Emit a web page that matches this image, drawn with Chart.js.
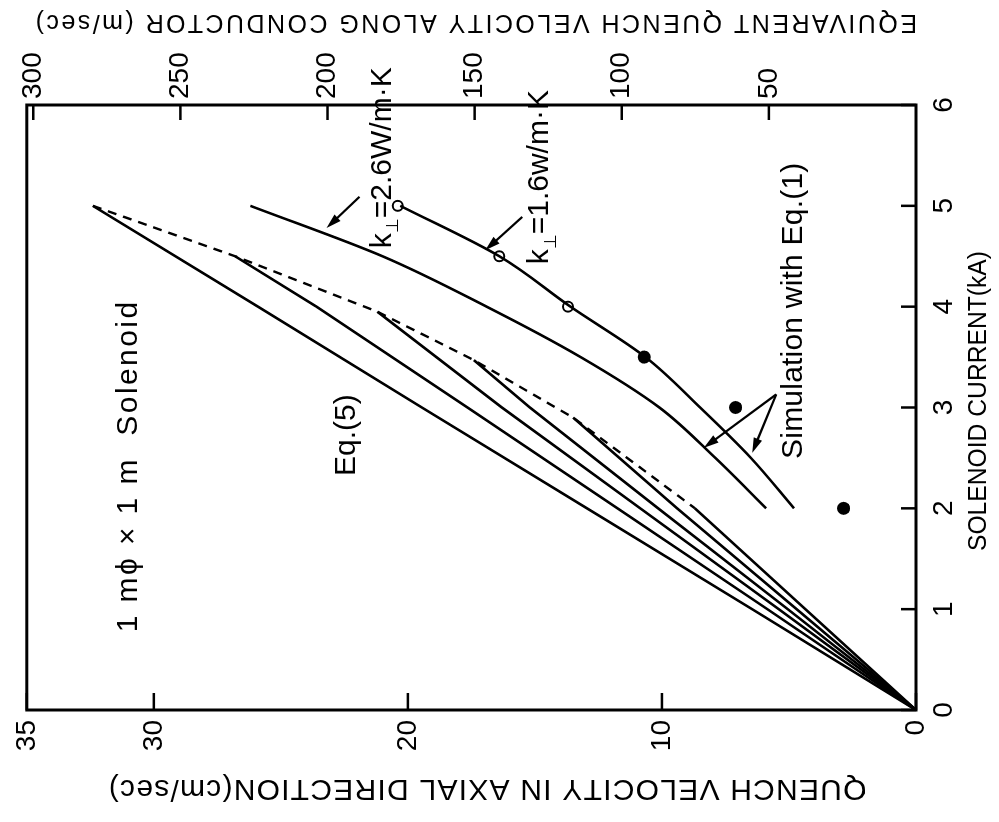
<!DOCTYPE html>
<html>
<head>
<meta charset="utf-8">
<title>Quench velocity</title>
<script src="https://cdn.jsdelivr.net/npm/chart.js@4.4.1/dist/chart.umd.min.js"></script>
<style>
    html, body { margin: 0; padding: 0; background: #fff; overflow: hidden; width: 999px; height: 822px; }
    /* la figura original esta girada 90 grados: se dibuja derecha y se gira el contenedor */
    #lienzo { position: absolute; left: 0; top: 0; width: 822px; height: 999px;
              transform-origin: 0 0; transform: translateY(822px) rotate(-90deg); }
</style>
</head>
<body>
<div id="lienzo"><canvas id="grafico" width="822" height="999" style="width:822px;height:999px"></canvas></div>
<script>
// ejes
const ticksCorriente = [0, 1, 2, 3, 4, 5, 6];          // kA
const ticksAxial = [0, 10, 20, 30, 35];                // cm/sec
const ticksConductor = [50, 100, 150, 200, 250, 300];  // m/sec
const maxAxial = 35;
const maxConductor = 302.2;

// Eq.(5): rectas desde el origen hasta la envolvente (corriente kA, velocidad cm/sec)
const eq5_50 = [[0, 0], [1, 6.45], [2, 12.95], [3, 19.45], [4, 25.9], [5, 32.4]];
const eq5_45 = [[0, 0], [1, 5.85], [2, 11.75], [3, 17.65], [4, 23.6], [4.5, 26.8]];
const eq5_40 = [[0, 0], [1, 5.4], [2, 10.85], [3, 16.3], [3.95, 21.2]];
const eq5_35 = [[0, 0], [1, 5.05], [2, 10.15], [3, 15.2], [3.47, 17.4]];
const eq5_30 = [[0, 0], [1, 4.7], [2, 9.4], [2.9, 13.5]];
const eq5_20 = [[0, 0], [1, 4.35], [2, 8.7]];
const eq5Envolvente = [[5, 32.4], [4.5, 26.8], [3.95, 21.2], [3.47, 17.4], [2.9, 13.5], [2, 8.7]];

// simulacion con Eq.(1)
const simK26 = [[2, 5.9], [2.5, 7.9], [3, 10.1], [3.5, 13.2], [4, 16.9], [4.5, 21.0], [5, 26.2]];
const simK16 = [[2, 4.8], [2.5, 6.5], [3, 8.5], [3.5, 10.65], [4, 13.6], [4.5, 16.4], [5, 20.3]];

// medidas
const puntosAbiertos = [[5, 20.4], [4.5, 16.4], [4, 13.7]];
const puntosLlenos = [[3.5, 10.7], [3, 7.1], [2, 2.85]];

// flechas [desde, hasta]
const flechas = [
    [[5.09, 21.9], [4.78, 23.2]],
    [[4.89, 15.5], [4.56, 16.95]],
    [[3.13, 5.5], [2.6, 8.35]],
    [[3.13, 5.5], [2.55, 6.45]]
];

const FUENTE = '"Liberation Sans", Arial, Helvetica, sans-serif';

function puntos(pares) {
    return pares.map(p => ({x: p[0], y: p[1]}));
}

function serieLinea(pares, extra) {
    return Object.assign({
        data: puntos(pares),
        showLine: true,
        borderColor: '#000',
        borderWidth: 2.6,
        pointRadius: 0,
        fill: false
    }, extra || {});
}

function textoAjustado(ctx, texto, x, y, ancho, tam, giro, alinear) {
    ctx.save();
    ctx.translate(x, y);
    if (giro) ctx.rotate(giro);
    ctx.font = tam + 'px ' + FUENTE;
    ctx.fillStyle = '#000';
    ctx.textAlign = alinear || 'center';
    ctx.textBaseline = 'middle';
    const w = ctx.measureText(texto).width;
    if (ancho && w > ancho) {
        ctx.fillText(texto, 0, 0, ancho);
    } else {
        if (ancho) ctx.letterSpacing = ((ancho - w) / texto.length).toFixed(2) + 'px';
        ctx.fillText(texto, 0, 0);
    }
    ctx.restore();
}

function etiquetaK(ctx, resto, x, y, ancho) {
    // "k" con subindice ⊥ y el resto del texto
    ctx.save();
    ctx.fillStyle = '#000';
    ctx.textBaseline = 'middle';
    ctx.textAlign = 'left';
    ctx.font = '30px ' + FUENTE;
    const wk = ctx.measureText('k').width;
    ctx.fillText('k', x, y);
    ctx.font = '17px ' + FUENTE;
    const ws = ctx.measureText('⊥').width;
    ctx.fillText('⊥', x + wk, y + 11);
    ctx.font = '30px ' + FUENTE;
    const wr = ctx.measureText(resto).width;
    const libre = ancho - wk - ws;
    if (libre > wr) ctx.letterSpacing = ((libre - wr) / resto.length).toFixed(2) + 'px';
    ctx.fillText(resto, x + wk + ws, y);
    ctx.restore();
}

function dibujarFlecha(ctx, x0, y0, x1, y1) {
    const ang = Math.atan2(y1 - y0, x1 - x0);
    const largo = 15, medio = 4.5;
    const c = Math.cos(ang), s = Math.sin(ang);
    ctx.beginPath();
    ctx.moveTo(x0, y0);
    ctx.lineTo(x1 - c * largo * 0.7, y1 - s * largo * 0.7);
    ctx.stroke();
    ctx.beginPath();
    ctx.moveTo(x1, y1);
    ctx.lineTo(x1 - c * largo - s * medio, y1 - s * largo + c * medio);
    ctx.lineTo(x1 - c * largo + s * medio, y1 - s * largo - c * medio);
    ctx.closePath();
    ctx.fill();
}

const marco = {
    id: 'marco',
    afterDatasetsDraw: function(chart) {
        const ctx = chart.ctx;
        const area = chart.chartArea;
        const ex = chart.scales.x, ey = chart.scales.y, ey2 = chart.scales.y2;
        ctx.save();
        ctx.strokeStyle = '#000';
        ctx.fillStyle = '#000';
        ctx.lineCap = 'butt';

        // marco
        ctx.lineWidth = 3;
        ctx.strokeRect(area.left, area.top, area.right - area.left, area.bottom - area.top);

        // marcas hacia dentro
        ctx.lineWidth = 2.5;
        ticksCorriente.forEach(t => {
            const p = ex.getPixelForValue(t);
            ctx.beginPath(); ctx.moveTo(p, area.bottom); ctx.lineTo(p, area.bottom - 15); ctx.stroke();
        });
        ticksAxial.forEach(t => {
            const p = ey.getPixelForValue(t);
            ctx.beginPath(); ctx.moveTo(area.left, p); ctx.lineTo(area.left + 17, p); ctx.stroke();
        });
        ticksConductor.forEach(t => {
            const p = ey2.getPixelForValue(t);
            ctx.beginPath(); ctx.moveTo(area.right, p); ctx.lineTo(area.right - 15, p); ctx.stroke();
        });

        // flechas
        ctx.lineWidth = 2.2;
        flechas.forEach(f => {
            dibujarFlecha(ctx,
                ex.getPixelForValue(f[0][0]), ey.getPixelForValue(f[0][1]),
                ex.getPixelForValue(f[1][0]), ey.getPixelForValue(f[1][1]));
        });

        // textos dentro del grafico
        const ancho = (a, b) => ex.getPixelForValue(b) - ex.getPixelForValue(a);
        textoAjustado(ctx, '1 mϕ × 1 m  Solenoid', ex.getPixelForValue(0.77), ey.getPixelForValue(31.0), ancho(0.77, 4.07), 30, 0, 'left');
        textoAjustado(ctx, 'Eq.(5)', ex.getPixelForValue(2.32), ey.getPixelForValue(22.4), 0, 30, 0, 'left');
        textoAjustado(ctx, 'Simulation with Eq.(1)', ex.getPixelForValue(2.49), ey.getPixelForValue(4.8), ancho(2.49, 5.43), 30, 0, 'left');
        etiquetaK(ctx, '=2.6W/m·K', ex.getPixelForValue(4.58), ey.getPixelForValue(21.0), ancho(4.58, 5.94));
        etiquetaK(ctx, '=1.6w/m·K', ex.getPixelForValue(4.42), ey.getPixelForValue(14.8), ancho(4.42, 5.95));

        // titulos de los ejes
        textoAjustado(ctx, 'QUENCH VELOCITY IN AXIAL DIRECTION(cm/sec)', 34, 487, 759, 30, -Math.PI / 2);
        textoAjustado(ctx, 'EQUIVARENT QUENCH VELOCITY ALONG CONDUCTOR (m/sec)', 800, 475, 884, 25, -Math.PI / 2);
        textoAjustado(ctx, 'SOLENOID CURRENT(kA)', 421, 979, 300, 26, 0);
        ctx.restore();
    }
};

const fuenteTicks = {family: FUENTE, size: 28};

new Chart(document.getElementById('grafico').getContext('2d'), {
    type: 'scatter',
    data: {
        datasets: [
            serieLinea(eq5_50),
            serieLinea(eq5_45),
            serieLinea(eq5_40),
            serieLinea(eq5_35),
            serieLinea(eq5_30),
            serieLinea(eq5_20),
            serieLinea(eq5Envolvente, {borderDash: [9, 7], borderWidth: 2.4}),
            serieLinea(simK26, {cubicInterpolationMode: 'monotone'}),
            serieLinea(simK16, {cubicInterpolationMode: 'monotone'}),
            {
                data: puntos(puntosAbiertos),
                showLine: false,
                pointRadius: 5,
                pointBorderWidth: 2,
                pointBorderColor: '#000',
                pointBackgroundColor: '#fff'
            },
            {
                data: puntos(puntosLlenos),
                showLine: false,
                pointRadius: 6.5,
                pointBorderWidth: 0,
                pointBackgroundColor: '#000'
            }
        ]
    },
    options: {
        responsive: false,
        animation: false,
        devicePixelRatio: 1,
        layout: { padding: { top: 24, left: 0, right: 0, bottom: 0 } },
        plugins: { legend: { display: false }, tooltip: { enabled: false } },
        scales: {
            x: {
                type: 'linear',
                position: 'bottom',
                min: 0,
                max: 6,
                grid: { display: false, drawTicks: false },
                border: { display: false },
                afterBuildTicks: function(scale) { scale.ticks = ticksCorriente.map(v => ({value: v})); },
                afterFit: function(scale) { scale.height = 83; },
                ticks: { color: '#000', font: fuenteTicks, padding: 11, maxRotation: 0 }
            },
            y: {
                type: 'linear',
                position: 'left',
                min: 0,
                max: maxAxial,
                grid: { display: false, drawTicks: false },
                border: { display: false },
                afterBuildTicks: function(scale) { scale.ticks = ticksAxial.map(v => ({value: v})); },
                afterFit: function(scale) { scale.width = 112; },
                ticks: { color: '#000', font: fuenteTicks, padding: 10 }
            },
            y2: {
                type: 'linear',
                position: 'right',
                min: 0,
                max: maxConductor,
                grid: { display: false, drawTicks: false },
                border: { display: false },
                afterBuildTicks: function(scale) { scale.ticks = ticksConductor.map(v => ({value: v})); },
                afterFit: function(scale) { scale.width = 105; },
                ticks: { color: '#000', font: fuenteTicks, padding: 6 }
            }
        }
    },
    plugins: [marco]
});
</script>
</body>
</html>
